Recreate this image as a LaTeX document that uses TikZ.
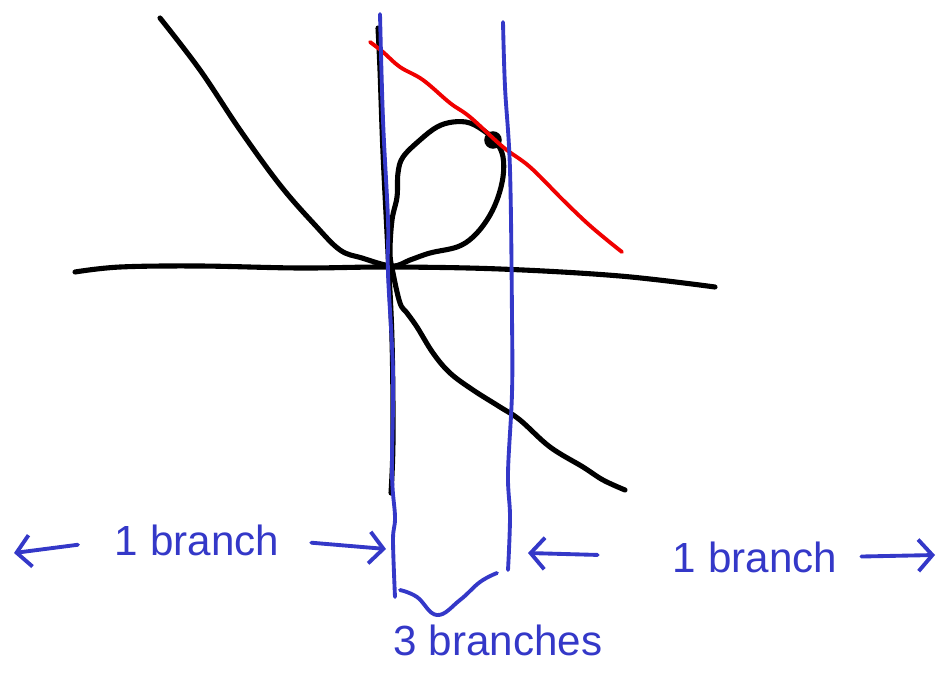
\documentclass[tikz,border=0pt]{standalone}
\usepackage{fontspec}
\setmainfont{Liberation Sans}
\usetikzlibrary{arrows.meta}
\definecolor{penblue}{RGB}{52,56,200}
\definecolor{penred}{RGB}{240,0,0}
\begin{document}
\begin{tikzpicture}[x=0.02cm, y=-0.02cm,
    ink/.style={line width=2.9pt, line cap=round, line join=round},
    pen/.style={line width=2.2pt, draw=penblue, line cap=round, line join=round},
    branchtext/.style={text=penblue, font=\fontsize{24}{28}\selectfont, inner sep=0pt},
    hand/.style={pen, -{Straight Barb[length=8pt, width=18pt, line width=2.2pt]}}]
    \useasboundingbox (0,0) rectangle (936,673);

    % Axes
    \draw[ink] plot[smooth, tension=0.6] coordinates {(75,272) (120,267) (200,266) (300,268) (390,267) (500,269) (620,276) (715,287)};
    \draw[ink] plot[smooth, tension=0.6] coordinates {(378,28) (380,70) (383,153) (388,253) (392,340) (393,440) (391,493)};

    % Nodal curve with its loop
    \draw[ink] plot[smooth, tension=0.6] coordinates {(160,18) (200,70) (240,130) (280,185) (315,225) (340,250) (362,258) (392,266) (410,260) (430,253) (457,247) (473,237) (487,220) (497,200) (503,177) (503,157) (497,143) (487,133) (470,123) (453,122) (437,127) (420,140) (403,157) (398,173) (397,197) (392,220) (390,253) (393,273) (400,303) (407,313) (417,327) (433,353) (450,373) (473,390) (500,407) (520,420) (550,447) (583,467) (603,480) (625,490)};
    \coordinate (tangency) at (493,140);
    \fill (tangency) circle [radius=5pt];

    % Tangent line
    \draw[line width=2.2pt, penred, line cap=round] plot[smooth, tension=0.6] coordinates {(370,42) (383,52) (400,67) (423,80) (450,103) (470,117) (503,147) (530,167) (563,200) (587,223) (607,240) (622,252)};

    % Vertical dividers
    \draw[pen] plot[smooth, tension=0.6] coordinates {(380,14) (383,120) (388,220) (388,273) (393,373) (392,473) (395,517) (393,540) (395,597)};
    \draw[pen] plot[smooth, tension=0.6] coordinates {(503,22) (505,87) (510,170) (512,317) (512,393) (508,473) (510,517) (508,570)};
    \draw[pen] plot[smooth, tension=0.7] coordinates {(400,590) (417,597) (437,615) (460,600) (480,582) (497,573)};

    % Labels
    \node[branchtext] (leftbranch) at (197,540) {1 branch};
    \node[branchtext] (rightbranch) at (755,557) {1 branch};
    \node[branchtext] (threebranch) at (498,640) {3 branches};
    \coordinate (leftfar) at (14,553);
    \coordinate (lineone) at (386,549);
    \coordinate (linetwo) at (528,553);
    \coordinate (rightfar) at (935,555);

    % Arrows
    \draw[hand, shorten <=0.74cm] (leftbranch.west) -- (leftfar);
    \draw[hand, shorten <=0.64cm] (leftbranch.east) -- (lineone);
    \draw[hand, shorten <=1.5cm] (rightbranch.west) -- (linetwo);
    \draw[hand, shorten <=0.48cm] (rightbranch.east) -- (rightfar);
\end{tikzpicture}
\end{document}
